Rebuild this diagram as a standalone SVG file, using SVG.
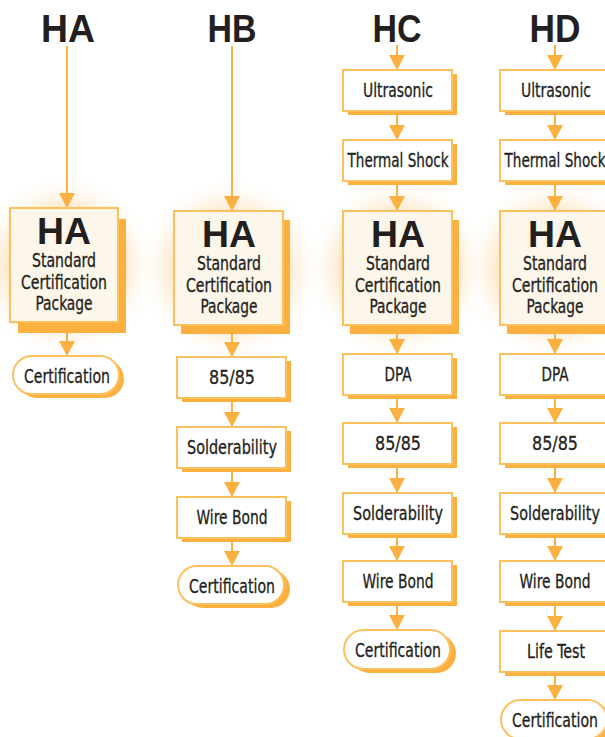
<svg xmlns="http://www.w3.org/2000/svg" width="605" height="737" viewBox="0 0 605 737">
<style>
.hdr{font-family:"Liberation Sans",Arial,sans-serif;font-weight:bold;font-size:39px;fill:#231F20;text-anchor:middle}
.big{font-family:"Liberation Sans",Arial,sans-serif;font-weight:bold;font-size:36px;fill:#231F20;text-anchor:middle}
.lbl{font-family:"DejaVu Sans Condensed","Liberation Sans",sans-serif;font-size:19px;fill:#231F20;stroke:#231F20;stroke-width:0.3;text-anchor:middle}
.pkg{font-family:"DejaVu Sans Condensed","Liberation Sans",sans-serif;font-size:19px;fill:#231F20;stroke:#231F20;stroke-width:0.3;text-anchor:middle}
.box{fill:#FFFFFF;stroke:#FCC15F;stroke-width:2}
.hbox{fill:#FDF6EA;stroke:#FCC15F;stroke-width:2}
.sh{fill:#FBB040}
.con{stroke:#FBB040;stroke-width:2;fill:none;marker-end:url(#ah)}
</style>
<defs>
<marker id="ah" markerUnits="userSpaceOnUse" markerWidth="15" markerHeight="16" viewBox="0 0 15 16" refX="15" refY="8" orient="auto">
<path d="M0,0 L15,8 L0,16 Z" fill="#FBB040"/>
</marker>
<radialGradient id="glow">
<stop offset="0" stop-color="#FBBE5E" stop-opacity="0.9"/>
<stop offset="0.62" stop-color="#FDD49C" stop-opacity="0.55"/>
<stop offset="1" stop-color="#FFFFFF" stop-opacity="0"/>
</radialGradient>
</defs>
<rect width="605" height="737" fill="#FFFFFF"/>
<g id="glows">
<circle cx="65" cy="266" r="92" fill="url(#glow)"/>
<circle cx="230" cy="269" r="92" fill="url(#glow)"/>
<circle cx="398" cy="269" r="92" fill="url(#glow)"/>
<circle cx="555" cy="269" r="92" fill="url(#glow)"/>
</g>
<g id="headers">
<text class="hdr" x="68" y="42" textLength="54" lengthAdjust="spacingAndGlyphs">HA</text>
<text class="hdr" x="232" y="42" textLength="49" lengthAdjust="spacingAndGlyphs">HB</text>
<text class="hdr" x="397" y="42" textLength="49" lengthAdjust="spacingAndGlyphs">HC</text>
<text class="hdr" x="555" y="42" textLength="51" lengthAdjust="spacingAndGlyphs">HD</text>
</g>
<g id="connectors">
<path class="con" d="M67,46 V208"/>
<path class="con" d="M67,322 V356"/>
<path class="con" d="M232,46 V211"/>
<path class="con" d="M232,325 V357"/>
<path class="con" d="M232,398 V427"/>
<path class="con" d="M232,468 V497"/>
<path class="con" d="M232,538 V566"/>
<path class="con" d="M397,45 V70"/>
<path class="con" d="M397,111 V140"/>
<path class="con" d="M397,181 V211"/>
<path class="con" d="M397,325 V354"/>
<path class="con" d="M397,395 V423"/>
<path class="con" d="M397,464 V493"/>
<path class="con" d="M397,534 V561"/>
<path class="con" d="M397,602 V630"/>
<path class="con" d="M555,45 V70"/>
<path class="con" d="M555,111 V140"/>
<path class="con" d="M555,181 V211"/>
<path class="con" d="M555,325 V354"/>
<path class="con" d="M555,395 V423"/>
<path class="con" d="M555,464 V493"/>
<path class="con" d="M555,534 V561"/>
<path class="con" d="M555,602 V631"/>
<path class="con" d="M555,672 V700"/>
</g>
<!-- HA column -->
<g id="ha-pkg">
<rect class="sh" x="18" y="219" width="108" height="114"/>
<rect class="hbox" x="10" y="208" width="108" height="114"/>
<text class="big" x="64" y="244" textLength="54" lengthAdjust="spacingAndGlyphs">HA</text>
<text class="pkg" x="64" y="267" textLength="64" lengthAdjust="spacingAndGlyphs">Standard</text>
<text class="pkg" x="64" y="289" textLength="86" lengthAdjust="spacingAndGlyphs">Certification</text>
<text class="pkg" x="64" y="310" textLength="57" lengthAdjust="spacingAndGlyphs">Package</text>
</g>
<g id="ha-cert">
<rect class="sh" x="18" y="360" width="106" height="38" rx="19"/>
<rect class="box" x="13" y="356" width="106" height="38" rx="19"/>
<text class="lbl" x="67" y="383" textLength="86" lengthAdjust="spacingAndGlyphs">Certification</text>
</g>
<!-- HB column -->
<g id="hb-pkg">
<rect class="sh" x="181" y="220" width="109" height="114"/>
<rect class="hbox" x="174" y="211" width="109" height="114"/>
<text class="big" x="229" y="247" textLength="54" lengthAdjust="spacingAndGlyphs">HA</text>
<text class="pkg" x="229" y="270" textLength="64" lengthAdjust="spacingAndGlyphs">Standard</text>
<text class="pkg" x="229" y="292" textLength="86" lengthAdjust="spacingAndGlyphs">Certification</text>
<text class="pkg" x="229" y="313" textLength="57" lengthAdjust="spacingAndGlyphs">Package</text>
</g>
<g id="hb-8585">
<rect class="sh" x="182" y="361" width="109" height="41"/>
<rect class="box" x="177" y="357" width="109" height="41"/>
<text class="lbl" x="232" y="384" textLength="46" lengthAdjust="spacingAndGlyphs">85/85</text>
</g>
<g id="hb-solder">
<rect class="sh" x="182" y="431" width="109" height="41"/>
<rect class="box" x="177" y="427" width="109" height="41"/>
<text class="lbl" x="232" y="454" textLength="90" lengthAdjust="spacingAndGlyphs">Solderability</text>
</g>
<g id="hb-wire">
<rect class="sh" x="182" y="501" width="109" height="41"/>
<rect class="box" x="177" y="497" width="109" height="41"/>
<text class="lbl" x="232" y="524" textLength="71" lengthAdjust="spacingAndGlyphs">Wire Bond</text>
</g>
<g id="hb-cert">
<rect class="sh" x="184" y="570" width="106" height="38" rx="19"/>
<rect class="box" x="178" y="566" width="106" height="38" rx="19"/>
<text class="lbl" x="232" y="593" textLength="86" lengthAdjust="spacingAndGlyphs">Certification</text>
</g>
<!-- HC column -->
<g id="hc-ultra">
<rect class="sh" x="348" y="74" width="109" height="41"/>
<rect class="box" x="343" y="70" width="109" height="41"/>
<text class="lbl" x="398" y="97" textLength="70" lengthAdjust="spacingAndGlyphs">Ultrasonic</text>
</g>
<g id="hc-thermal">
<rect class="sh" x="348" y="144" width="109" height="41"/>
<rect class="box" x="343" y="140" width="109" height="41"/>
<text class="lbl" x="398" y="167" textLength="101" lengthAdjust="spacingAndGlyphs">Thermal Shock</text>
</g>
<g id="hc-pkg">
<rect class="sh" x="350" y="220" width="109" height="114"/>
<rect class="hbox" x="343" y="211" width="109" height="114"/>
<text class="big" x="398" y="247" textLength="54" lengthAdjust="spacingAndGlyphs">HA</text>
<text class="pkg" x="398" y="270" textLength="64" lengthAdjust="spacingAndGlyphs">Standard</text>
<text class="pkg" x="398" y="292" textLength="86" lengthAdjust="spacingAndGlyphs">Certification</text>
<text class="pkg" x="398" y="313" textLength="57" lengthAdjust="spacingAndGlyphs">Package</text>
</g>
<g id="hc-dpa">
<rect class="sh" x="348" y="358" width="109" height="41"/>
<rect class="box" x="343" y="354" width="109" height="41"/>
<text class="lbl" x="398" y="381" textLength="27" lengthAdjust="spacingAndGlyphs">DPA</text>
</g>
<g id="hc-8585">
<rect class="sh" x="348" y="427" width="109" height="41"/>
<rect class="box" x="343" y="423" width="109" height="41"/>
<text class="lbl" x="398" y="450" textLength="46" lengthAdjust="spacingAndGlyphs">85/85</text>
</g>
<g id="hc-solder">
<rect class="sh" x="348" y="497" width="109" height="41"/>
<rect class="box" x="343" y="493" width="109" height="41"/>
<text class="lbl" x="398" y="520" textLength="90" lengthAdjust="spacingAndGlyphs">Solderability</text>
</g>
<g id="hc-wire">
<rect class="sh" x="348" y="565" width="109" height="41"/>
<rect class="box" x="343" y="561" width="109" height="41"/>
<text class="lbl" x="398" y="588" textLength="71" lengthAdjust="spacingAndGlyphs">Wire Bond</text>
</g>
<g id="hc-cert">
<rect class="sh" x="350" y="634" width="106" height="39" rx="19.5"/>
<rect class="box" x="344" y="630" width="106" height="39" rx="19.5"/>
<text class="lbl" x="398" y="657" textLength="86" lengthAdjust="spacingAndGlyphs">Certification</text>
</g>
<!-- HD column -->
<g id="hd-ultra">
<rect class="sh" x="505" y="74" width="109" height="41"/>
<rect class="box" x="500" y="70" width="109" height="41"/>
<text class="lbl" x="556" y="97" textLength="70" lengthAdjust="spacingAndGlyphs">Ultrasonic</text>
</g>
<g id="hd-thermal">
<rect class="sh" x="505" y="144" width="109" height="41"/>
<rect class="box" x="500" y="140" width="109" height="41"/>
<text class="lbl" x="555" y="167" textLength="101" lengthAdjust="spacingAndGlyphs">Thermal Shock</text>
</g>
<g id="hd-pkg">
<rect class="sh" x="507" y="220" width="109" height="114"/>
<rect class="hbox" x="500" y="211" width="109" height="114"/>
<text class="big" x="555" y="247" textLength="54" lengthAdjust="spacingAndGlyphs">HA</text>
<text class="pkg" x="555" y="270" textLength="64" lengthAdjust="spacingAndGlyphs">Standard</text>
<text class="pkg" x="555" y="292" textLength="86" lengthAdjust="spacingAndGlyphs">Certification</text>
<text class="pkg" x="555" y="313" textLength="57" lengthAdjust="spacingAndGlyphs">Package</text>
</g>
<g id="hd-dpa">
<rect class="sh" x="505" y="358" width="109" height="41"/>
<rect class="box" x="500" y="354" width="109" height="41"/>
<text class="lbl" x="555" y="381" textLength="27" lengthAdjust="spacingAndGlyphs">DPA</text>
</g>
<g id="hd-8585">
<rect class="sh" x="505" y="427" width="109" height="41"/>
<rect class="box" x="500" y="423" width="109" height="41"/>
<text class="lbl" x="555" y="450" textLength="46" lengthAdjust="spacingAndGlyphs">85/85</text>
</g>
<g id="hd-solder">
<rect class="sh" x="505" y="497" width="109" height="41"/>
<rect class="box" x="500" y="493" width="109" height="41"/>
<text class="lbl" x="555" y="520" textLength="90" lengthAdjust="spacingAndGlyphs">Solderability</text>
</g>
<g id="hd-wire">
<rect class="sh" x="505" y="565" width="109" height="41"/>
<rect class="box" x="500" y="561" width="109" height="41"/>
<text class="lbl" x="555" y="588" textLength="71" lengthAdjust="spacingAndGlyphs">Wire Bond</text>
</g>
<g id="hd-life">
<rect class="sh" x="505" y="635" width="109" height="41"/>
<rect class="box" x="500" y="631" width="109" height="41"/>
<text class="lbl" x="556" y="658" textLength="58" lengthAdjust="spacingAndGlyphs">Life Test</text>
</g>
<g id="hd-cert">
<rect class="sh" x="507" y="704" width="106" height="39" rx="19.5"/>
<rect class="box" x="501" y="700" width="106" height="39" rx="19.5"/>
<text class="lbl" x="555" y="727" textLength="86" lengthAdjust="spacingAndGlyphs">Certification</text>
</g>
</svg>
